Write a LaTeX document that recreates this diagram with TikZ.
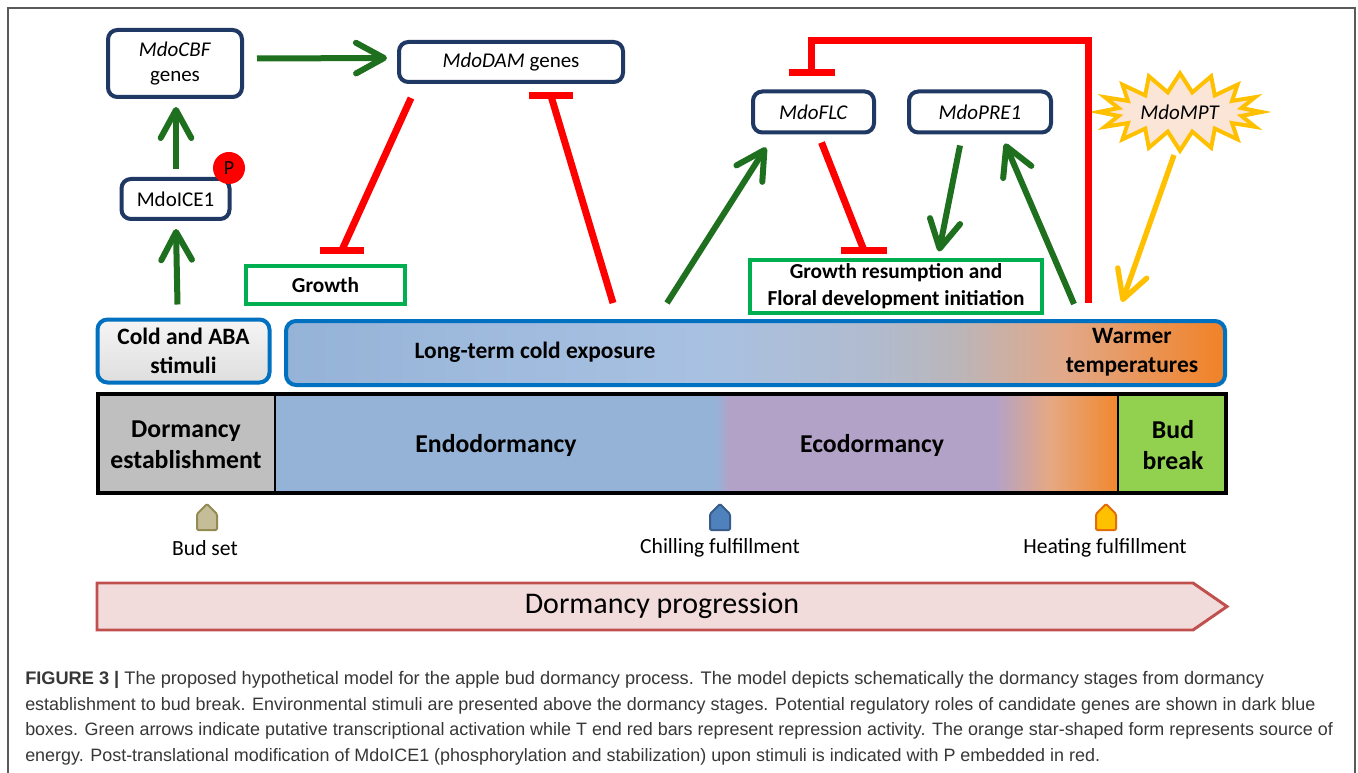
\documentclass[tikz,border=0pt]{standalone}
\usepackage{fontspec}
\setmainfont{Carlito}
\newfontfamily\capfont{Liberation Sans}
\usetikzlibrary{arrows.meta,shapes.symbols,calc}
\newcommand\myfs[2]{\fontsize{#1pt}{#2pt}\selectfont}
\definecolor{dblue}{RGB}{32,56,100}
\definecolor{agreen}{RGB}{30,112,30}
\definecolor{bgreen}{RGB}{0,176,80}
\definecolor{eblue}{RGB}{0,112,192}
\definecolor{ayellow}{RGB}{255,192,0}
\definecolor{peach}{RGB}{251,229,214}
\definecolor{c1}{RGB}{149,179,215}
\definecolor{c2}{RGB}{168,193,226}
\definecolor{c3}{RGB}{176,187,207}
\definecolor{c4}{RGB}{186,182,186}
\definecolor{c5}{RGB}{226,168,136}
\definecolor{c6}{RGB}{240,132,44}
\definecolor{purp}{RGB}{179,162,199}
\definecolor{spch}{RGB}{230,168,130}
\definecolor{sor}{RGB}{240,136,46}
\definecolor{estgray}{RGB}{191,191,191}
\definecolor{budgreen}{RGB}{146,208,80}
\definecolor{progfill}{RGB}{242,220,219}
\definecolor{progdraw}{RGB}{192,80,77}
\definecolor{capgray}{RGB}{55,55,55}
\definecolor{framegray}{RGB}{90,90,90}
\definecolor{stimtop}{RGB}{245,245,245}
\definecolor{stimbot}{RGB}{222,222,222}
\tikzset{
  gene/.style={draw=dblue, line width=3pt, rounded corners=7pt, inner sep=0pt, align=center, font=\myfs{15.75}{18.75}},
  gbox/.style={draw=bgreen, line width=3pt, inner sep=0pt, align=center, font=\bfseries\myfs{16}{20}},
  envbox/.style={draw=eblue, line width=3pt, rounded corners=7.5pt, inner sep=0pt, align=center},
  envtext/.style={inner sep=0pt, align=center, font=\bfseries\myfs{17.6}{21.5}},
  stagetext/.style={inner sep=0pt, align=center, font=\bfseries\myfs{19.3}{23}},
  marktext/.style={inner sep=0pt, font=\myfs{16.2}{19}},
  garrow/.style={draw=agreen, line width=4.5pt, -{Straight Barb[length=21pt,width=23pt,round]}},
  yarrow/.style={draw=ayellow, line width=4pt, -{Straight Barb[length=21pt,width=23pt,round]}},
  rline/.style={draw=red, line width=5.25pt},
  captext/.style={inner sep=0pt, anchor=west, text=capgray, font=\capfont\myfs{13.45}{16}},
  markshape/.style={line width=1.5pt, rounded corners=1pt},
}
\begin{document}
\begin{tikzpicture}[x=0.75pt,y=-0.75pt]
\useasboundingbox (0,0) rectangle (1358,773);
\fill[white] (0,0) rectangle (1358,773);
\draw[framegray, line width=0.9pt] (8,820) -- (8,8) -- (1355,8) -- (1355,820);

% ---------- gene boxes ----------
\node[gene, minimum width=100.5pt, minimum height=50.25pt] (cbf) at (175,63.5) {\textit{MdoCBF}\\genes};
\node[gene, minimum width=168pt, minimum height=30pt] (dam) at (511,62) {\textit{MdoDAM} genes};
\node[gene, minimum width=81pt, minimum height=30pt] (ice) at (175.5,199) {MdoICE1};
\node[circle, fill=red, inner sep=0pt, minimum size=24pt, font=\myfs{15}{15}] (p) at (229,168) {P};
\node[gene, minimum width=90.75pt, minimum height=30.75pt] (flc) at (813.5,112) {\textit{MdoFLC}};
\node[gene, minimum width=106.5pt, minimum height=30.75pt] (pre) at (980,112) {\textit{MdoPRE1}};
\node[starburst, draw=ayellow, fill=peach, line width=3pt, starburst points=16, starburst point height=14pt, random starburst=0, minimum width=122pt, minimum height=58pt, inner sep=0pt, font=\myfs{15.75}{18}] (mpt) at (1180,112) {\textit{MdoMPT}};

% ---------- green target boxes ----------
\node[gbox, minimum width=119.25pt, minimum height=28.5pt] (growth) at (325.5,285) {Growth};
\node[gbox, minimum width=219pt, minimum height=39pt] (gr) at (896,286.5) {Growth resumption and\\Floral development initiation};

% ---------- environment boxes ----------
\node[envbox, top color=stimtop, bottom color=stimbot, minimum width=129pt, minimum height=47.25pt] (stim) at (183.5,351) {};
\node[envtext] (stimt) at (183.5,351) {Cold and ABA\\stimuli};
\begin{scope}
  \clip[rounded corners=7.5pt] (287,321) rectangle (1224,385);
  \shade[left color=c1, right color=c2] (280,315) rectangle (700,390);
  \shade[left color=c2, right color=c3] (700,315) rectangle (870,390);
  \shade[left color=c3, right color=c4] (870,315) rectangle (955,390);
  \shade[left color=c4, right color=c5] (955,315) rectangle (1065,390);
  \shade[left color=c5, right color=c6] (1065,315) rectangle (1215,390);
  \fill[c6] (1215,315) rectangle (1230,390);
\end{scope}
\node[envbox, minimum width=704.25pt, minimum height=48pt] (cold) at (755.5,353) {};
\node[envtext] (coldt) at (535,352) {Long-term cold exposure};
\node[envtext] (warm) at (1132,352) {Warmer\\temperatures};

% ---------- stage bar ----------
\fill[estgray] (98,394) rectangle (275,493);
\fill[c1] (275,394) rectangle (715,493);
\shade[left color=c1, right color=purp] (715,394) rectangle (730,493);
\fill[purp] (730,394) rectangle (995,493);
\shade[left color=purp, right color=spch] (995,394) rectangle (1050,493);
\shade[left color=spch, right color=sor] (1050,394) rectangle (1118,493);
\fill[budgreen] (1118,394) rectangle (1226,493);
\draw[black, line width=3pt] (98,394) rectangle (1226,493);
\draw[black, line width=2.2pt] (275,394) -- (275,493);
\draw[black, line width=2.2pt] (1118,394) -- (1118,493);
\node[stagetext] (est) at (186,445) {Dormancy\\establishment};
\node[stagetext] (endo) at (496,445) {Endodormancy};
\node[stagetext] (eco) at (872,445) {Ecodormancy};
\node[stagetext] (bud) at (1173,445) {Bud\\break};

% ---------- markers ----------
\filldraw[markshape, fill={rgb,255:red,196;green,189;blue,151}, draw={rgb,255:red,148;green,138;blue,84}]
  (197,530) -- (197,514) -- (207,504) -- (217,514) -- (217,530) -- cycle;
\filldraw[markshape, fill={rgb,255:red,79;green,129;blue,189}, draw={rgb,255:red,56;green,93;blue,138}]
  (710,530) -- (710,514) -- (720,504) -- (730,514) -- (730,530) -- cycle;
\filldraw[markshape, fill=ayellow, draw={rgb,255:red,228;green,108;blue,10}]
  (1096,530) -- (1096,514) -- (1106,504) -- (1116,514) -- (1116,530) -- cycle;
\node[marktext] (bs) at (205,548) {Bud set};
\node[marktext] (cf) at (720,548) {Chilling fulfillment};
\node[marktext] (hf) at (1105,548) {Heating fulfillment};

% ---------- progression arrow ----------
\filldraw[fill=progfill, draw=progdraw, line width=2.2pt]
  (97,583) -- (1193,583) -- (1227,606.5) -- (1193,630) -- (97,630) -- cycle;
\node[inner sep=0pt, font=\myfs{22.5}{26}] (prog) at (662,606) {Dormancy progression};

% ---------- activation arrows ----------
\draw[garrow] ($(stim.north)+(-6,-13)$) -- ($(ice.south)+(0.5,8)$);
\draw[garrow] ($(ice.north)+(0.5,-8)$) -- ($(cbf.south)+(1,8)$);
\draw[garrow] ($(cbf.east)+(13,-5)$) -- ($(dam.west)+(-10,-4)$);
\coordinate (s1) at (667,303);
\draw[garrow] (s1) -- ($(flc.south west)+(15,13)$);
\draw[garrow] ($(pre.south)+(-20,11)$) -- ($(gr.north)+(43,-7)$);
\coordinate (s2) at (1074,304);
\draw[garrow] (s2) -- ($(pre.south)+(25,9)$);
\coordinate (s3) at (1122,302);
\draw[yarrow] ($(mpt.center)+(-6,43)$) -- (s3);

% ---------- repression lines ----------
\coordinate (b1) at ($(growth.north)+(16,-13)$);
\draw[rline] ($(dam.south west)+(14,14)$) -- (b1);
\draw[rline] ($(b1)+(-22,0)$) -- ($(b1)+(22,0)$);
\coordinate (b2) at ($(dam.south)+(40,12)$);
\coordinate (r2) at (613,303);
\draw[rline] (r2) -- (b2);
\draw[rline] ($(b2)+(-22,0)$) -- ($(b2)+(22,0)$);
\coordinate (b3) at ($(gr.north)+(-32,-8)$);
\draw[rline] ($(flc.south)+(8,8)$) -- (b3);
\draw[rline] ($(b3)+(-23,0)$) -- ($(b3)+(23,0)$);
\coordinate (r4) at (1088,303);
\coordinate (b4) at ($(flc.north)+(-2,-17)$);
\draw[rline] (r4) -- (r4 |- 0,41) -- (b4 |- 0,41) -- (b4);
\draw[rline] ($(b4)+(-23,0)$) -- ($(b4)+(23,0)$);

% ---------- caption ----------
\node[captext, font=\capfont\myfs{13.65}{16}] (cap1) at (25,680) {\textbf{FIGURE 3 |} The proposed hypothetical model for the apple bud dormancy process. The model depicts schematically the dormancy stages from dormancy};
\node[captext] (cap2) at (25,706) {establishment to bud break. Environmental stimuli are presented above the dormancy stages. Potential regulatory roles of candidate genes are shown in dark blue};
\node[captext] (cap3) at (25,731) {boxes. Green arrows indicate putative transcriptional activation while T end red bars represent repression activity. The orange star-shaped form represents source of};
\node[captext] (cap4) at (25,757) {energy. Post-translational modification of MdoICE1 (phosphorylation and stabilization) upon stimuli is indicated with P embedded in red.};
\end{tikzpicture}
\end{document}
